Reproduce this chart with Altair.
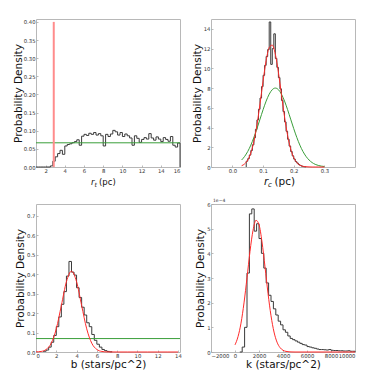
import altair as alt
import pandas as pd

# ---------------- data ----------------
# Panel 1: r_t histogram (bin width 0.25 starting at 1.0)
rt_start, rt_width = 1.0, 0.25
rt_density = [0, 0, 0, 0, 0, 0,
              0.003, 0.016, 0.028, 0.037, 0.046, 0.035, 0.058, 0.062, 0.064, 0.067,
              0.070, 0.075, 0.060, 0.085, 0.090, 0.087, 0.093, 0.090, 0.095, 0.088,
              0.092, 0.086, 0.058, 0.090, 0.084, 0.091, 0.101, 0.097, 0.088, 0.095,
              0.084, 0.091, 0.086, 0.080, 0.060, 0.086, 0.079, 0.068, 0.076, 0.081,
              0.077, 0.092, 0.080, 0.074, 0.083, 0.077, 0.070, 0.081, 0.076, 0.071,
              0.084, 0.060, 0.055, 0.066]
rt_prior = [0.0667]
rt_marker_x = [2.85]
rt_marker_bottom = [0.0]
rt_marker_top = [0.40]

# Panel 2: r_c histogram (bin width 0.005 starting at 0.045)
rc_start, rc_width = 0.045, 0.005
rc_density = [0.59, 0.85, 1.21, 1.67, 2.25, 2.96, 3.81, 4.77, 5.85, 6.99,
              8.15, 9.29, 10.3, 11.2, 11.9, 14.7, 10.4, 12.0, 13.5, 11.0,
              10.1, 9.06, 7.92, 6.75, 5.62, 4.57, 3.62, 2.81, 2.12, 1.57,
              1.13, 0.80, 0.55, 0.40, 0.25, 0.15, 0.08, 0.04, 0.02]
rc_fit_x = [0.03, 0.04, 0.05, 0.06, 0.07, 0.08, 0.09, 0.10, 0.11, 0.12, 0.13, 0.14,
            0.15, 0.16, 0.17, 0.18, 0.19, 0.20, 0.21, 0.22, 0.23, 0.24, 0.25, 0.26,
            0.27, 0.28, 0.29, 0.30]
rc_fit_red = [0.13, 0.32, 0.71, 1.42, 2.59, 4.27, 6.41, 8.72, 10.79, 12.11, 12.35, 11.43,
              9.61, 7.33, 5.08, 3.20, 1.83, 0.95, 0.45, 0.19, 0.07, 0.03, 0.01, 0.0,
              0.0, 0.0, 0.0, 0.0]
rc_prior_green = [0.71, 1.08, 1.58, 2.22, 3.00, 3.89, 4.85, 5.81, 6.68, 7.38, 7.84, 8.00,
                  7.84, 7.38, 6.68, 5.81, 4.85, 3.89, 3.00, 2.22, 1.58, 1.08, 0.71, 0.45,
                  0.27, 0.16, 0.09, 0.05]

# Panel 3: b histogram (bin width 0.25 starting at 0.75)
b_start, b_width = 0.75, 0.25
b_density = [0.004, 0.010, 0.025, 0.050, 0.085, 0.130, 0.180, 0.245, 0.310, 0.390,
             0.465, 0.410, 0.395, 0.330, 0.280, 0.230, 0.190, 0.150, 0.130, 0.090,
             0.060, 0.040, 0.025, 0.013, 0.007, 0.003, 0.001]
b_fit_x = [0, 0.5, 1.0, 1.5, 2.0, 2.5, 3.0, 3.5, 4.0, 4.5, 5.0, 5.5, 6.0, 6.5, 7.0,
           8.0, 9.0, 10.0, 11.0, 12.0, 13.0, 14.0]
b_fit_red = [0.0005, 0.0028, 0.013, 0.045, 0.119, 0.239, 0.361, 0.415, 0.361, 0.239,
             0.119, 0.045, 0.013, 0.0028, 0.0005, 0, 0, 0, 0, 0, 0, 0]
b_prior = [0.069]

# Panel 4: k histogram (bin width 200 starting at 400), density in units of 1e-4
k_start, k_width = 400, 200
k_density = [0.0, 0.2, 1.0, 3.2, 5.6, 5.8, 4.9, 5.2, 4.6, 4.0,
             3.4, 2.8, 2.3, 2.05, 1.75, 1.5, 1.25, 1.1, 0.9, 0.8,
             0.65, 0.55, 0.5, 0.45, 0.4, 0.35, 0.3, 0.28, 0.22, 0.2,
             0.17, 0.15, 0.12, 0.1, 0.1, 0.09, 0.08, 0.1, 0.07, 0.06,
             0.06, 0.05, 0.05, 0.04, 0.04, 0.05, 0.03, 0.03]
k_fit_x = [0, 250, 500, 750, 1000, 1250, 1500, 1750, 2000, 2250, 2500, 2750, 3000,
           3250, 3500, 3750, 4000, 4250, 4500, 4750, 5000, 6000, 7000, 8000, 9000, 10000]
k_fit_red = [0.29, 0.62, 1.17, 1.99, 3.01, 4.08, 4.93, 5.34, 5.16, 4.46, 3.45, 2.38, 1.47,
             0.81, 0.40, 0.18, 0.07, 0.025, 0.008, 0.002, 0, 0, 0, 0, 0, 0]

# ---------------- helpers ----------------
W, H = 144, 148
HIST = "#3a3a3a"
RED = "#ff2a2a"
GREEN = "#3a9e3a"
FONT = "DejaVu Sans"
ONE = pd.DataFrame({"a": [0]})
TICK = 2


def step_frame(start, width, dens):
    xs = [start] + [start + i * width for i in range(len(dens))] + [start + len(dens) * width]
    ys = [0] + list(dens) + [0]
    return pd.DataFrame({"x": xs, "y": ys})


def axes(xdom, ydom, xvals, yvals, xfmt, yfmt, ext, xtitle=None):
    xa = dict(values=xvals, format=xfmt, labelPadding=1, titlePadding=1,
              offset=-TICK, tickSize=TICK, labelOverlap=False)
    xa["title"] = xtitle if xtitle is not None else None
    X = alt.X("x:Q", scale=alt.Scale(domain=xdom, nice=False, zero=False),
              axis=alt.Axis(**xa))
    Y = alt.Y("y:Q", scale=alt.Scale(domain=ydom, nice=False, zero=False),
              axis=alt.Axis(values=yvals, format=yfmt, title="Probability Density",
                            minExtent=ext + TICK, maxExtent=ext + TICK, labelPadding=1,
                            titlePadding=2 - TICK, offset=-TICK, tickSize=TICK,
                            labelOverlap=False))
    return X, Y


def curve(xs, ys, color, X, Y):
    return alt.Chart(pd.DataFrame({"x": xs, "y": ys})).mark_line(
        color=color, strokeWidth=1, interpolate="monotone").encode(x=X, y=Y)


def hline(val, color, Y):
    return alt.Chart(pd.DataFrame({"y": val})).mark_rule(
        color=color, strokeWidth=1).encode(y=Y)


def label_piece(txt, px, py, size, style):
    return alt.Chart(ONE).mark_text(
        text=txt, align="left", baseline="middle", font=FONT, fontSize=size,
        fontStyle=style, color="#111").encode(x=alt.value(px), y=alt.value(py))


def hist(start, width, dens, X, Y):
    return alt.Chart(step_frame(start, width, dens)).mark_line(
        interpolate="step-after", color=HIST, strokeWidth=1).encode(x=X, y=Y)


# ---------------- panel 1 ----------------
X1, Y1 = axes([1, 16], [0, 0.408], [2, 4, 6, 8, 10, 12, 14, 16],
              [0, 0.05, 0.10, 0.15, 0.20, 0.25, 0.30, 0.35, 0.40], "d", ".2f", 13)
r1 = alt.Chart(pd.DataFrame({"x": rt_marker_x, "y": rt_marker_bottom,
                             "top": rt_marker_top})).mark_rule(
    color="#ff8c8c", strokeWidth=2).encode(x=X1, y=Y1, y2="top:Q")
p1 = alt.layer(
    hist(rt_start, rt_width, rt_density, X1, Y1),
    hline(rt_prior, GREEN, Y1), r1,
    label_piece("r", 55, H + 15, 8.5, "italic"),
    label_piece("t", 58.4, H + 17.5, 6, "italic"),
    label_piece("(pc)", 63, H + 15, 8.5, "normal"),
).properties(width=W, height=H)

# ---------------- panel 2 ----------------
X2, Y2 = axes([-0.07, 0.4], [0, 15], [0.0, 0.1, 0.2, 0.3],
              [0, 2, 4, 6, 8, 10, 12, 14], ".1f", "d", 9)
p2 = alt.layer(
    hist(rc_start, rc_width, rc_density, X2, Y2),
    curve(rc_fit_x, rc_prior_green, GREEN, X2, Y2),
    curve(rc_fit_x, rc_fit_red, RED, X2, Y2),
    label_piece("r", 53, H + 15, 10.5, "italic"),
    label_piece("c", 57, H + 18, 7, "italic"),
    label_piece("(pc)", 63.5, H + 15, 10.5, "normal"),
).properties(width=W, height=H)

# ---------------- panel 3 ----------------
X3, Y3 = axes([0, 14.2], [0, 0.76], [0, 2, 4, 6, 8, 10, 12, 14],
              [0, 0.1, 0.2, 0.3, 0.4, 0.5, 0.6, 0.7], "d", ".1f", 11,
              xtitle="b (stars/pc^2)")
p3 = alt.layer(
    hist(b_start, b_width, b_density, X3, Y3),
    hline(b_prior, GREEN, Y3),
    curve(b_fit_x, b_fit_red, RED, X3, Y3),
).properties(width=W, height=H)

# ---------------- panel 4 ----------------
X4, Y4 = axes([-2000, 10000], [0, 6], [-2000, 0, 2000, 4000, 6000, 8000, 10000],
              [0, 1, 2, 3, 4, 5, 6], "d", "d", 6, xtitle="k (stars/pc^2)")
off4 = alt.Chart(ONE).mark_text(
    text="1e\u22124", align="left", baseline="bottom", font=FONT, fontSize=4.5,
    color="#333").encode(x=alt.value(2), y=alt.value(-1))
p4 = alt.layer(
    hist(k_start, k_width, k_density, X4, Y4),
    curve(k_fit_x, k_fit_red, RED, X4, Y4),
    off4,
).properties(width=W, height=H)

chart = alt.concat(p1, p2, p3, p4, columns=2, spacing={"row": 8, "column": 8}).properties(
    padding={"left": 4, "top": 10, "right": 0, "bottom": 0},
    background="white",
).configure_view(
    stroke="#b8b8b8", strokeWidth=1
).configure_axis(
    domain=False, ticks=True, grid=False, tickColor="#a8a8a8", tickWidth=0.8,
    labelOverlap=False,
    labelFont=FONT, labelFontSize=5.3, labelColor="#333",
    titleFont=FONT, titleFontSize=10.5, titleFontWeight="normal", titleColor="#111",
)

chart.save("out.html", embed_options={"renderer": "svg", "actions": False})
